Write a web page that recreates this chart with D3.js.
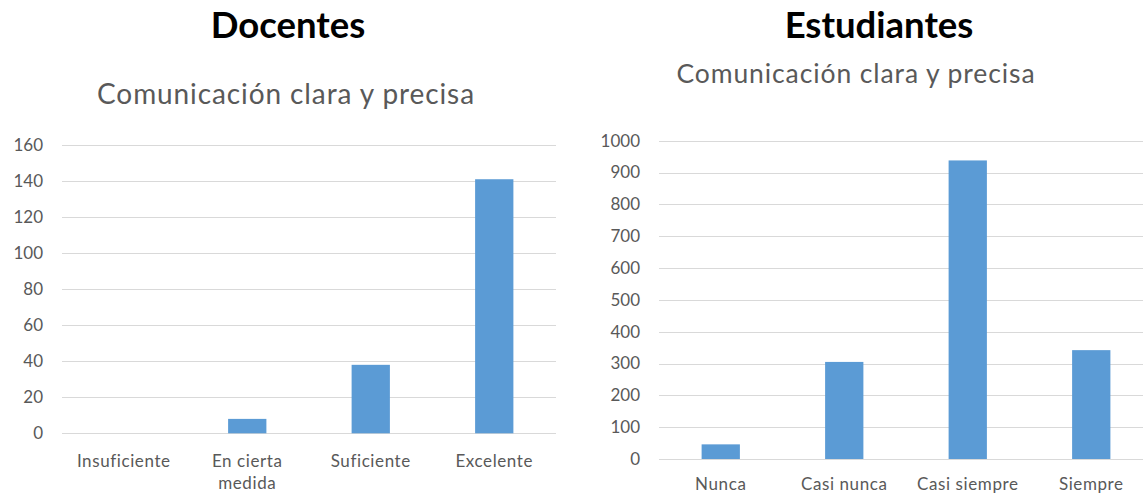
<!DOCTYPE html>
<html>
<head>
<meta charset="utf-8">
<script src="https://cdn.jsdelivr.net/npm/d3@7"></script>
<style>
  html, body { margin: 0; padding: 0; background: #fff; }
  svg { display: block; }
  text { font-family: Lato, "Open Sans", sans-serif; }
</style>
</head>
<body>
<svg id="chart" width="1143" height="493"></svg>
<script>
// ---- Data ----
const docentesCategories = ["Insuficiente", "En cierta medida", "Suficiente", "Excelente"];
const docentesValues = [0, 8, 38, 141];
const docentesTicks = [0, 20, 40, 60, 80, 100, 120, 140, 160];

const estudiantesCategories = ["Nunca", "Casi nunca", "Casi siempre", "Siempre"];
const estudiantesValues = [46, 305, 938, 342];
const estudiantesTicks = [0, 100, 200, 300, 400, 500, 600, 700, 800, 900, 1000];

const titles = ["Docentes", "Estudiantes"];
const subtitle = "Comunicación clara y precisa";

// ---- Drawing ----
const svg = d3.select("#chart");
const BAR = "#5B9BD5", GRID = "#D9D9D9", TXT = "#595959";

function wrapLabel(textSel, maxW) {
  textSel.each(function() {
    const t = d3.select(this);
    const words = t.text().split(/\s+/);
    const x = t.attr("x") || 0;
    t.text(null);
    let line = [];
    let tspan = t.append("tspan").attr("x", x).attr("dy", 0);
    for (const w of words) {
      line.push(w);
      tspan.text(line.join(" "));
      if (tspan.node().getComputedTextLength() > maxW && line.length > 1) {
        line.pop();
        tspan.text(line.join(" "));
        line = [w];
        tspan = t.append("tspan").attr("x", x).attr("dy", "22px").text(w);
      }
    }
  });
}

function drawChart(cfg) {
  const g = svg.append("g");
  const x = d3.scaleBand().domain(cfg.categories).range(cfg.xRange)
    .paddingInner(0.69).paddingOuter(0.345);
  const y = d3.scaleLinear().domain([0, cfg.ticks[cfg.ticks.length - 1]]).range(cfg.yRange);

  // gridlines
  g.append("g").selectAll("line").data(cfg.ticks).join("line")
    .attr("x1", cfg.gridRange[0]).attr("x2", cfg.gridRange[1])
    .attr("y1", d => Math.round(y(d)) + 0.5).attr("y2", d => Math.round(y(d)) + 0.5)
    .attr("stroke", GRID).attr("stroke-width", 1.2);

  // y axis labels
  const yAxis = d3.axisLeft(y).tickValues(cfg.ticks).tickFormat(d3.format("d"))
    .tickSize(0).tickPadding(0);
  const ya = g.append("g").attr("transform", `translate(${cfg.labelRight},0)`).call(yAxis);
  ya.select(".domain").remove();
  ya.selectAll("text").attr("fill", TXT).style("font-size", "17px")
    .style("font-family", "Lato, 'Open Sans', sans-serif");

  // bars
  g.append("g").selectAll("rect").data(cfg.values).join("rect")
    .attr("x", (d, i) => x(cfg.categories[i]))
    .attr("width", x.bandwidth())
    .attr("y", d => y(d))
    .attr("height", d => y(0) - y(d))
    .attr("fill", BAR);

  // x axis labels
  const xAxis = d3.axisBottom(x).tickSize(0).tickPadding(0);
  const xa = g.append("g").attr("transform", `translate(0,${cfg.yRange[0]})`).call(xAxis);
  xa.select(".domain").remove();
  xa.selectAll("text").attr("fill", TXT).style("font-size", "17px")
    .style("letter-spacing", "0.6px")
    .style("font-family", "Lato, 'Open Sans', sans-serif")
    .attr("y", cfg.labelOffset).attr("dy", "0")
    .call(wrapLabel, cfg.wrapW);

  // titles
  svg.append("text").attr("x", cfg.titleX).attr("y", 38)
    .attr("text-anchor", "middle").attr("fill", "#000")
    .style("font-size", "36.5px").style("font-weight", "bold")
    .text(cfg.title);
  svg.append("text").attr("x", cfg.subX).attr("y", cfg.subY)
    .attr("text-anchor", "middle").attr("fill", TXT)
    .style("font-size", cfg.subSize).style("letter-spacing", "0.9px")
    .text(subtitle);
}

drawChart({
  categories: docentesCategories, values: docentesValues, ticks: docentesTicks,
  xRange: [62, 556], gridRange: [62, 556], yRange: [433.3, 145], labelRight: 43,
  labelOffset: 34, wrapW: 100,
  title: titles[0], titleX: 288, subX: 286, subY: 104, subSize: "28px"
});
drawChart({
  categories: estudiantesCategories, values: estudiantesValues, ticks: estudiantesTicks,
  xRange: [659, 1153], gridRange: [659, 1143], yRange: [459, 140.7], labelRight: 640,
  labelOffset: 31, wrapW: 140,
  title: titles[1], titleX: 879, subX: 856, subY: 83.3, subSize: "26.5px"
});
</script>
</body>
</html>
